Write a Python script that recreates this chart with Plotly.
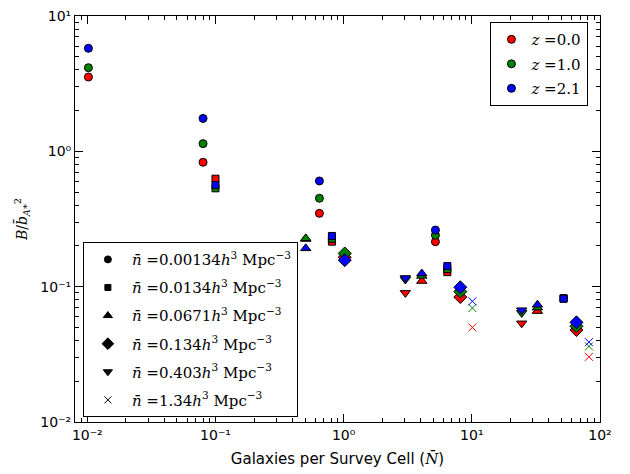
import plotly.graph_objects as go

# ---- data ----
z_labels = ["0.0", "1.0", "2.1"]
z_colors = ["#ff0000", "#008000", "#0000ff"]

nbar_labels = ["0.00134", "0.0134", "0.0671", "0.134", "0.403", "1.34"]
symbols = ["circle", "square", "triangle-up", "diamond", "triangle-down", "x-thin"]

x_n1 = [0.0102, 0.080, 0.647, 5.2]
x_n2 = [0.10, 0.81, 6.44, 52.0]
x_n3 = [0.506, 4.07, 32.5]
x_n4 = [1.02, 8.13, 65.5]
x_n5 = [3.03, 24.5]
x_n6 = [10.1, 82.0]

# B / b^2 values for z = 0.0, 1.0, 2.1
y_n1_z0 = [3.54, 0.83, 0.348, 0.215]
y_n1_z1 = [4.15, 1.14, 0.45, 0.240]
y_n1_z2 = [5.77, 1.75, 0.604, 0.262]

y_n2_z0 = [0.628, 0.215, 0.128, 0.082]
y_n2_z1 = [0.533, 0.226, 0.135, 0.082]
y_n2_z2 = [0.563, 0.237, 0.142, 0.0815]

y_n3_z0 = [0.225, 0.110, 0.066]
y_n3_z1 = [0.2275, 0.120, 0.070]
y_n3_z2 = [0.192, 0.125, 0.0735]

y_n4_z0 = [0.165, 0.0838, 0.0478]
y_n4_z1 = [0.176, 0.092, 0.051]
y_n4_z2 = [0.157, 0.099, 0.0545]

y_n5_z0 = [0.090, 0.0536]
y_n5_z1 = [0.113, 0.064]
y_n5_z2 = [0.116, 0.067]

y_n6_z0 = [0.050, 0.0303]
y_n6_z1 = [0.0695, 0.0362]
y_n6_z2 = [0.078, 0.0389]

xs = [x_n1, x_n2, x_n3, x_n4, x_n5, x_n6]
ys = [
    [y_n1_z0, y_n1_z1, y_n1_z2],
    [y_n2_z0, y_n2_z1, y_n2_z2],
    [y_n3_z0, y_n3_z1, y_n3_z2],
    [y_n4_z0, y_n4_z1, y_n4_z2],
    [y_n5_z0, y_n5_z1, y_n5_z2],
    [y_n6_z0, y_n6_z1, y_n6_z2],
]
sizes = [8, 7, 9, 10, 9, 8]

fig = go.Figure()

for i, sym in enumerate(symbols):
    for j, col in enumerate(z_colors):
        if sym == "x-thin":
            marker = dict(symbol=sym, size=sizes[i], color=col,
                          line=dict(color=col, width=1))
        else:
            marker = dict(symbol=sym, size=sizes[i], color=col,
                          line=dict(color="black", width=1))
        fig.add_trace(go.Scatter(x=xs[i], y=ys[i][j], mode="markers",
                                 marker=marker, showlegend=False,
                                 hoverinfo="x+y"))

# legend 1: density (black markers)
for i, sym in enumerate(symbols):
    if sym == "x-thin":
        marker = dict(symbol=sym, size=7, color="black",
                      line=dict(color="black", width=1))
    else:
        marker = dict(symbol=sym, size=sizes[i] - 1, color="black",
                      line=dict(color="black", width=1))
    fig.add_trace(go.Scatter(
        x=[None], y=[None], mode="markers", marker=marker,
        name="<i>n̄</i> =" + nbar_labels[i] + "<i>h</i><sup>3</sup> Mpc<sup>−3</sup>",
        legend="legend", legendgroup="n%d" % i))

# legend 2: redshift (coloured circles)
for j, col in enumerate(z_colors):
    fig.add_trace(go.Scatter(
        x=[None], y=[None], mode="markers",
        marker=dict(symbol="circle", size=8, color=col,
                    line=dict(color="black", width=1)),
        name="<i>z</i> =" + z_labels[j],
        legend="legend2", legendgroup="z%d" % j))

tick_vals_x = [0.01, 0.1, 1, 10, 100]
tick_text_x = ["10⁻²", "10⁻¹", "10⁰", "10¹", "10²"]
tick_vals_y = [0.01, 0.1, 1, 10]
tick_text_y = ["10⁻²", "10⁻¹", "10⁰", "10¹"]

axis_common = dict(
    showline=True, linecolor="black", linewidth=1, mirror="allticks",
    ticks="inside", ticklen=8, tickcolor="black", tickwidth=1,
    showgrid=False, zeroline=False, automargin=False,
    ticklabeloverflow="allow",
    tickfont=dict(family="DejaVu Sans", size=14, color="black"),
    minor=dict(ticks="inside", ticklen=4, tickcolor="black", tickwidth=1,
               dtick="D1", showgrid=False),
)

fig.update_xaxes(type="log", range=[-2.096, 2.0], tickvals=tick_vals_x,
                 ticktext=tick_text_x,
                 title=dict(text="Galaxies per Survey Cell (<span style='font-family:DejaVu Serif'><i>N̄</i></span>)",
                            font=dict(family="DejaVu Sans", size=15, color="black"),
                            standoff=11),
                 **axis_common)
fig.update_yaxes(type="log", range=[-2.0, 1.0], tickvals=tick_vals_y,
                 ticktext=tick_text_y,
                 title=dict(text="<i>B</i>/<i>b̄</i><sub><i>A</i>*</sub><sup>2</sup>",
                            font=dict(family="DejaVu Serif", size=14, color="black"),
                            standoff=9),
                 **axis_common)

# page body adds an 8px offset, so the figure is drawn 8px smaller
fig.update_layout(
    width=622, height=466,
    margin=dict(l=67, r=30, t=8, b=52),
    paper_bgcolor="white", plot_bgcolor="white",
    legend=dict(x=0.015, y=0.012, xanchor="left", yanchor="bottom",
                bgcolor="white", bordercolor="black", borderwidth=1,
                font=dict(family="DejaVu Serif", size=15, color="black"),
                traceorder="grouped", tracegroupgap=5.6,
                itemwidth=38),
    legend2=dict(x=0.978, y=0.985, xanchor="right", yanchor="top",
                 bgcolor="white", bordercolor="black", borderwidth=1,
                 font=dict(family="DejaVu Serif", size=15, color="black"),
                 traceorder="grouped", tracegroupgap=2,
                 itemwidth=30),
    showlegend=True,
)

fig.write_html("out.html")
